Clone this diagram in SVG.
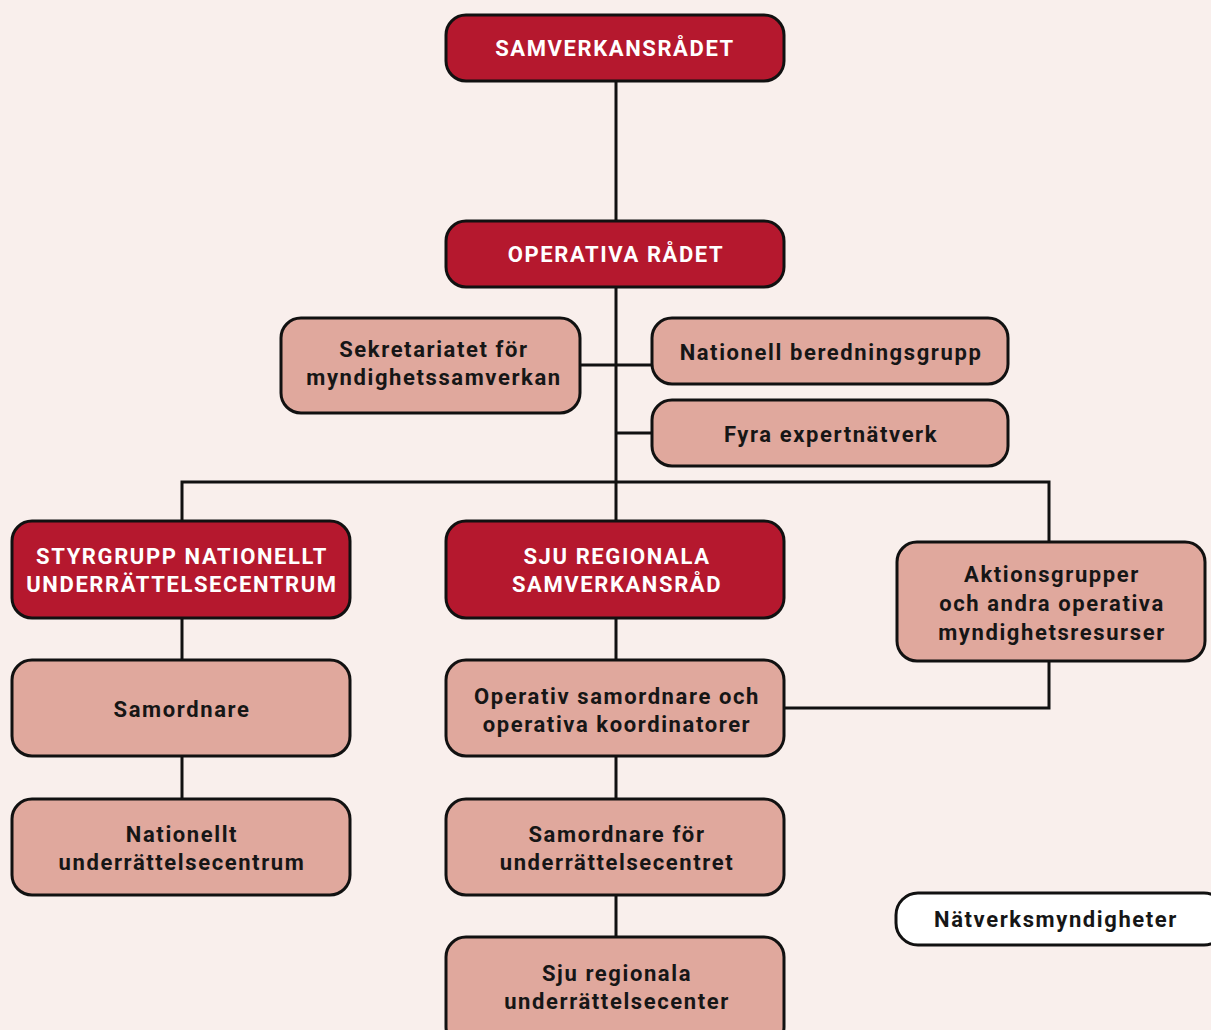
<svg xmlns="http://www.w3.org/2000/svg" width="1211" height="1030" viewBox="0 0 1211 1030">
<style>
.bg{fill:#f9efec}
.dark{fill:#b5182e;stroke:#111;stroke-width:3}
.light{fill:#e0a89d;stroke:#111;stroke-width:3}
.white{fill:#ffffff;stroke:#111;stroke-width:3}
.conn{stroke:#111;stroke-width:3;fill:none}
text{font-family:Roboto,"Liberation Sans",sans-serif;font-weight:700;font-size:22px;text-anchor:middle;letter-spacing:1.6px}
.wt{fill:#ffffff}
.bt{fill:#161616}
</style>
<rect class="bg" x="0" y="0" width="1211" height="1030"/>
<g id="connectors">
<path class="conn" d="M616 81V521"/>
<path class="conn" d="M580 365H652"/>
<path class="conn" d="M616 433H652"/>
<path class="conn" d="M182 521V482H1049V542"/>
<path class="conn" d="M182 618V799"/>
<path class="conn" d="M616 618V937"/>
<path class="conn" d="M1049 661V708H784"/>
</g>
<g id="samverkansradet"><rect class="dark" x="446" y="15" width="338" height="66" rx="20"/><text class="wt" x="615" y="56">SAMVERKANSRÅDET</text></g>
<g id="operativa-radet"><rect class="dark" x="446" y="221" width="338" height="66" rx="20"/><text class="wt" x="616" y="262">OPERATIVA RÅDET</text></g>
<g id="sekretariatet"><rect class="light" x="281" y="318" width="299" height="95" rx="20"/><text class="bt" x="434" y="357">Sekretariatet för</text><text class="bt" x="434" y="385">myndighetssamverkan</text></g>
<g id="nationell-beredningsgrupp"><rect class="light" x="652" y="318" width="356" height="66" rx="20"/><text class="bt" x="831" y="360">Nationell beredningsgrupp</text></g>
<g id="fyra-expertnatverk"><rect class="light" x="652" y="400" width="356" height="66" rx="20"/><text class="bt" x="831" y="442">Fyra expertnätverk</text></g>
<g id="styrgrupp"><rect class="dark" x="12" y="521" width="338" height="97" rx="20"/><text class="wt" x="182" y="564">STYRGRUPP NATIONELLT</text><text class="wt" x="182" y="592">UNDERRÄTTELSECENTRUM</text></g>
<g id="sju-regionala-samverkansrad"><rect class="dark" x="446" y="521" width="338" height="97" rx="20"/><text class="wt" x="617" y="564">SJU REGIONALA</text><text class="wt" x="617" y="592">SAMVERKANSRÅD</text></g>
<g id="aktionsgrupper"><rect class="light" x="897" y="542" width="308" height="119" rx="20"/><text class="bt" x="1052" y="582">Aktionsgrupper</text><text class="bt" x="1052" y="611">och andra operativa</text><text class="bt" x="1052" y="640">myndighetsresurser</text></g>
<g id="samordnare"><rect class="light" x="12" y="660" width="338" height="96" rx="20"/><text class="bt" x="182" y="717">Samordnare</text></g>
<g id="operativ-samordnare"><rect class="light" x="446" y="660" width="338" height="96" rx="20"/><text class="bt" x="617" y="704">Operativ samordnare och</text><text class="bt" x="617" y="732">operativa koordinatorer</text></g>
<g id="nationellt-underrattelsecentrum"><rect class="light" x="12" y="799" width="338" height="96" rx="20"/><text class="bt" x="182" y="842">Nationellt</text><text class="bt" x="182" y="870">underrättelsecentrum</text></g>
<g id="samordnare-for-underrattelsecentret"><rect class="light" x="446" y="799" width="338" height="96" rx="20"/><text class="bt" x="617" y="842">Samordnare för</text><text class="bt" x="617" y="870">underrättelsecentret</text></g>
<g id="sju-regionala-underrattelsecenter"><rect class="light" x="446" y="937" width="338" height="110" rx="20"/><text class="bt" x="617" y="981">Sju regionala</text><text class="bt" x="617" y="1009">underrättelsecenter</text></g>
<g id="natverksmyndigheter"><rect class="white" x="896" y="893" width="330" height="52" rx="22"/><text class="bt" x="1056" y="927">Nätverksmyndigheter</text></g>
</svg>
